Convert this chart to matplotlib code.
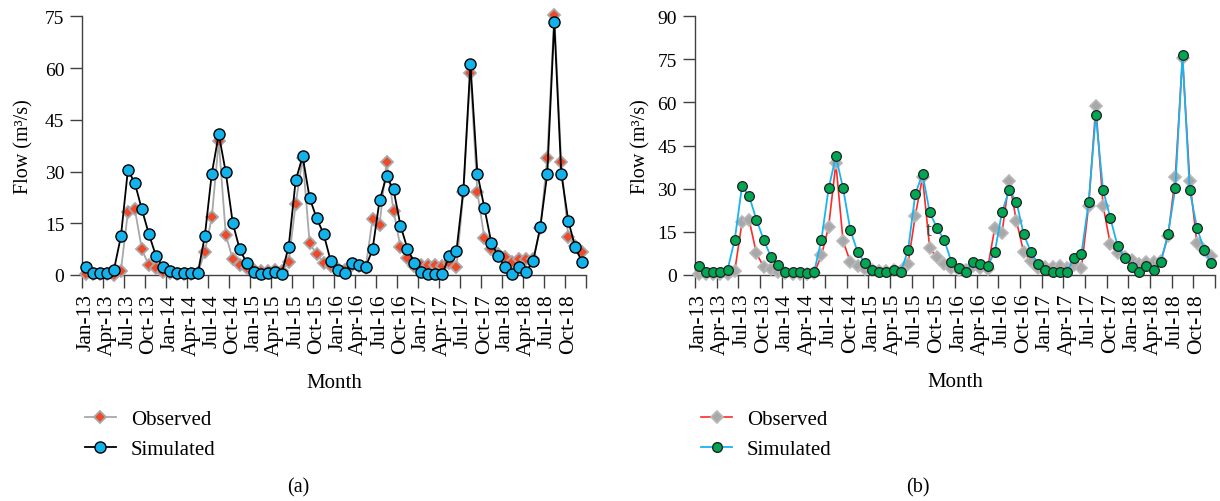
import numpy as np
import matplotlib
matplotlib.use("Agg")
import matplotlib.pyplot as plt
from matplotlib.lines import Line2D

plt.rcParams['font.family'] = ['Liberation Serif', 'DejaVu Serif']

# monthly flow, Jan-2013 .. Dec-2018
months = [f"{m}-{y}" for y in range(13, 19)
          for m in ["Jan", "Feb", "Mar", "Apr", "May", "Jun",
                    "Jul", "Aug", "Sep", "Oct", "Nov", "Dec"]]

observed = [0.3, 0.2, 0.2, 0.2, 0.1, 1.3, 18.2, 19.0, 7.4, 2.8, 2.0, 1.0,
            0.6, 0.4, 0.4, 0.4, 0.5, 6.7, 16.7, 38.8, 11.7, 4.5, 3.0, 2.0,
            1.5, 1.2, 1.2, 1.5, 1.2, 3.9, 20.6, 34.0, 9.2, 6.0, 3.6, 2.5,
            1.8, 1.5, 3.0, 2.5, 2.0, 16.2, 14.5, 32.8, 18.7, 8.0, 4.8, 2.5,
            2.8, 2.8, 3.0, 2.5, 3.5, 2.2, 24.0, 58.7, 24.0, 10.7, 7.4, 6.0,
            5.1, 3.9, 4.5, 4.5, 4.7, 13.5, 34.0, 75.5, 32.8, 11.0, 8.5, 6.6]

sim_a = [2.4, 0.6, 0.5, 0.5, 1.5, 11.2, 30.5, 26.6, 19.0, 11.9, 5.6, 2.4,
         1.1, 0.5, 0.5, 0.5, 0.5, 11.2, 29.4, 40.8, 29.8, 15.1, 7.4, 3.5,
         1.0, 0.4, 0.5, 1.0, 0.4, 8.2, 27.4, 34.4, 22.3, 16.5, 11.9, 4.2,
         1.5, 0.5, 3.5, 3.0, 2.2, 7.4, 21.6, 28.6, 24.8, 14.3, 7.6, 3.5,
         1.0, 0.4, 0.4, 0.4, 5.6, 6.9, 24.7, 61.3, 29.4, 19.5, 9.3, 5.4,
         2.2, 0.3, 2.2, 1.0, 4.2, 13.9, 29.4, 73.4, 29.4, 15.8, 8.0, 3.7]

sim_b = [3.1, 1.0, 1.0, 1.0, 1.7, 12.2, 30.8, 27.3, 19.2, 12.2, 6.3, 3.4,
         1.0, 1.0, 1.0, 0.5, 1.0, 12.2, 30.1, 41.2, 30.1, 15.6, 8.0, 4.1,
         1.7, 1.0, 1.0, 1.7, 1.0, 8.6, 28.1, 35.1, 21.7, 16.3, 12.1, 4.5,
         2.3, 1.0, 4.5, 3.9, 3.1, 7.8, 21.7, 29.5, 25.4, 14.2, 7.9, 3.7,
         1.7, 1.0, 1.0, 1.0, 5.8, 7.2, 25.2, 55.6, 29.5, 19.8, 10.1, 5.8,
         2.6, 1.0, 3.1, 1.7, 4.5, 14.2, 30.1, 76.6, 29.5, 16.3, 8.7, 4.0]

x = np.arange(len(months))

fig = plt.figure(figsize=(12.2, 5.02), dpi=100)
ax1 = fig.add_axes([0.0676, 0.4502, 0.4125, 0.5153])
ax2 = fig.add_axes([0.5697, 0.4508, 0.4262, 0.5147])

red = '#ee4a2a'
gray = '#a8a8a8'
cyan = '#13b2ea'
green = '#00a651'

# panel (a)
ax1.plot(x, observed, color=gray, lw=1.3, marker='D', ms=6.5, mfc=red,
         mec=gray, mew=1.3, clip_on=False, zorder=3)
ax1.plot(x, sim_a, color='black', lw=1.3, marker='o', ms=8, mfc=cyan,
         mec='black', mew=1.0, clip_on=False, zorder=4)

# panel (b)
ax2.plot(x, observed, color='#ff2a2a', lw=1.2, marker='D', ms=6.5, mfc=gray,
         mec='#b8b8b8', mew=1.2, clip_on=False, zorder=3)
ax2.plot(x, sim_b, color='#19b4f0', lw=1.3, marker='o', ms=7, mfc=green,
         mec='#222222', mew=0.9, clip_on=False, zorder=4)
# stray glyph visible in the original panel
ax2.text(31.4, 14.0, 't', fontsize=15, color='#444444', zorder=5)

for ax, top in [(ax1, 75), (ax2, 90)]:
    ax.set_xlim(-0.5, len(months) - 0.5)
    ax.set_ylim(0, top)
    ax.set_yticks(np.arange(0, top + 1, 15))
    ax.set_xticks(np.arange(-0.5, len(months), 3))
    ax.set_xticklabels([])
    ax.set_xticks(x[::3], minor=True)
    ax.set_xticklabels(months[::3], minor=True, rotation=90)
    ax.tick_params(axis='x', which='minor', length=0, pad=13, labelsize=15.5)
    ax.tick_params(axis='x', which='major', length=9, width=1.0,
                   color='#404040', direction='out')
    ax.tick_params(axis='y', length=9, width=1.0, color='#404040',
                   labelsize=14, pad=4)
    for s in ['top', 'right']:
        ax.spines[s].set_visible(False)
    for s in ['left', 'bottom']:
        ax.spines[s].set_color('#404040')
        ax.spines[s].set_linewidth(1.0)
    ax.set_xlabel('Month', fontsize=15, labelpad=13)

ax1.set_ylabel('Flow (m³/s)', fontsize=14.5, labelpad=8)
ax2.set_ylabel('Flow (m³/s)', fontsize=14.5, labelpad=5)

h_a = [Line2D([], [], color=gray, lw=1.3, marker='D', ms=6.5, mfc=red,
              mec=gray, mew=1.3),
       Line2D([], [], color='black', lw=1.3, marker='o', ms=8, mfc=cyan,
              mec='black')]
h_b = [Line2D([], [], color='#ff2a2a', lw=1.2, marker='D', ms=6.5, mfc=gray,
              mec='#b8b8b8', mew=1.2),
       Line2D([], [], color='#19b4f0', lw=1.3, marker='o', ms=7, mfc=green,
              mec='#222222')]

leg_kw = dict(loc='upper left', frameon=False, fontsize=15, borderpad=0,
              handlelength=1.5, labelspacing=0.5, handletextpad=0.7)
fig.legend(h_a, ['Observed', 'Simulated'], bbox_to_anchor=(0.061, 0.203),
           **leg_kw)
fig.legend(h_b, ['Observed', 'Simulated'], bbox_to_anchor=(0.566, 0.203),
           **leg_kw)

fig.text(0.2445, 0.028, '(a)', ha='center', va='center', fontsize=14.5)
fig.text(0.7525, 0.028, '(b)', ha='center', va='center', fontsize=14.5)

fig.savefig('out.png', dpi=100)
